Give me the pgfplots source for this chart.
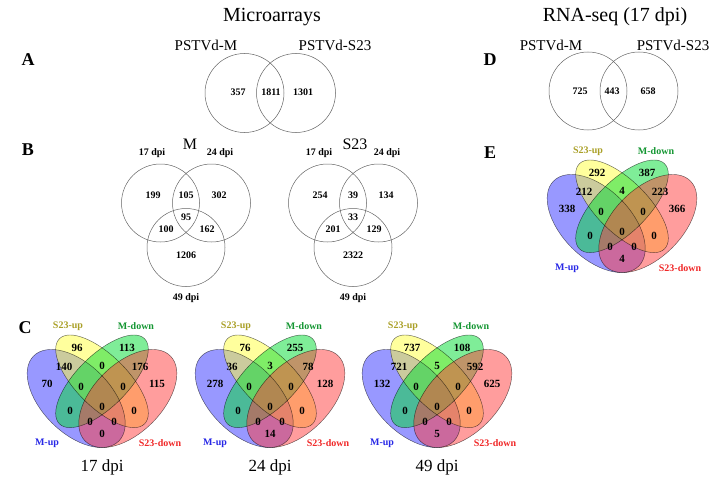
\documentclass[border=0pt]{standalone}
\usepackage{pgfplots}
\pgfplotsset{compat=1.18}
\usepackage{pgfplotstable}
\usepackage{fontspec}
\setmainfont{Liberation Serif}

\definecolor{vblue}{RGB}{50,50,255}
\definecolor{vyellow}{RGB}{255,255,60}
\definecolor{vgreen}{RGB}{0,220,50}
\definecolor{vred}{RGB}{255,60,60}
\definecolor{lblue}{RGB}{40,40,230}
\definecolor{lyellow}{RGB}{170,160,40}
\definecolor{lgreen}{RGB}{20,150,50}
\definecolor{lred}{RGB}{240,40,40}
\definecolor{cline}{RGB}{100,100,100}

\newcommand\fs[1]{\fontsize{#1bp}{#1bp}\selectfont}

\pgfplotstableread{
dx dy c17 c24 c49 rna
-25 -59 96 76 737 292
25 -59 113 255 108 387
-38 -40 140 36 721 212
0 -41 0 3 5 4
38 -40 176 78 592 223
-55 -23 70 278 132 338
55 -23 115 128 625 366
-21 -20 0 0 0 0
21 -20 0 0 0 0
0 0 0 0 0 0
-32 4 0 0 0 0
32 4 0 0 0 0
-12 15 0 0 0 0
12 15 0 0 0 0
0 27 0 14 5 4
}\quadtab

\pgfplotstableread{
dx dy M S
-33 -22 199 254
0 -22 105 39
33 -22 302 134
0 0 95 33
-20 12 100 201
21 12 162 129
0 38 1206 2322
}\tritab

\pgfplotstableread{
x y v
238 92 357
271 92 1811
303 92 1301
}\tabA

\pgfplotstableread{
x y v
580 91 725
612 91 443
648 91 658
}\tabD

\newcommand\quadvenn[2]{%
 \fill[vblue, fill opacity=0.5, rotate around={-45:(axis cs:{#1-25.8},{#2-8.5})}] (axis cs:{#1-25.8},{#2-8.5}) ellipse[x radius=60.2, y radius=34.4];
 \fill[vyellow, fill opacity=0.5, rotate around={-45:(axis cs:{#1},{#2-25.7})}] (axis cs:{#1},{#2-25.7}) ellipse[x radius=60.2, y radius=25.8];
 \fill[vgreen, fill opacity=0.5, rotate around={45:(axis cs:{#1},{#2-25.7})}] (axis cs:{#1},{#2-25.7}) ellipse[x radius=60.2, y radius=25.8];
 \fill[vred, fill opacity=0.5, rotate around={45:(axis cs:{#1+25.8},{#2-8.5})}] (axis cs:{#1+25.8},{#2-8.5}) ellipse[x radius=60.2, y radius=34.4];
 \draw[black, draw opacity=0.6, line width=0.45bp, rotate around={-45:(axis cs:{#1-25.8},{#2-8.5})}] (axis cs:{#1-25.8},{#2-8.5}) ellipse[x radius=60.2, y radius=34.4];
 \draw[black, draw opacity=0.6, line width=0.45bp, rotate around={-45:(axis cs:{#1},{#2-25.7})}] (axis cs:{#1},{#2-25.7}) ellipse[x radius=60.2, y radius=25.8];
 \draw[black, draw opacity=0.6, line width=0.45bp, rotate around={45:(axis cs:{#1},{#2-25.7})}] (axis cs:{#1},{#2-25.7}) ellipse[x radius=60.2, y radius=25.8];
 \draw[black, draw opacity=0.6, line width=0.45bp, rotate around={45:(axis cs:{#1+25.8},{#2-8.5})}] (axis cs:{#1+25.8},{#2-8.5}) ellipse[x radius=60.2, y radius=34.4];
 \node[font=\fs{10}\bfseries, text=lyellow] at (axis cs:{#1-34},{#2-81}) {S23-up};
 \node[font=\fs{10}\bfseries, text=lgreen] at (axis cs:{#1+34},{#2-81}) {M-down};
 \node[font=\fs{10}\bfseries, text=lblue] at (axis cs:{#1-55},{#2+36}) {M-up};
 \node[font=\fs{10}\bfseries, text=lred] at (axis cs:{#1+58},{#2+36}) {S23-down};
}

\newcommand\trivenn[2]{%
 \draw[cline, line width=0.5bp] (axis cs:{#1-25.5},{#2-14}) circle[radius=39];
 \draw[cline, line width=0.5bp] (axis cs:{#1+25.5},{#2-14}) circle[radius=39];
 \draw[cline, line width=0.5bp] (axis cs:{#1},{#2+30.5}) circle[radius=39];
 \node[font=\fs{10}\bfseries] at (axis cs:{#1-34},{#2-64}) {17 dpi};
 \node[font=\fs{10}\bfseries] at (axis cs:{#1+34},{#2-64}) {24 dpi};
 \node[font=\fs{10}\bfseries] at (axis cs:{#1},{#2+81}) {49 dpi};
}

\begin{document}
\begin{tikzpicture}
\begin{axis}[
  scale only axis, width=720bp, height=483bp,
  xmin=0, xmax=720, ymin=0, ymax=483, y dir=reverse,
  hide axis, clip=false,
  nodenum/.style={only marks, mark=none, nodes near coords, point meta=explicit symbolic,
    every node near coord/.append style={anchor=center, font=\fs{#1}\bfseries, text=black, inner sep=0pt}},
]
% titles
\node[font=\fs{20}] at (axis cs:272,17) {Microarrays};
\node[font=\fs{20}] at (axis cs:615,17) {RNA-seq (17 dpi)};
% panel letters
\node[font=\fs{18}\bfseries] at (axis cs:28,60) {A};
\node[font=\fs{18}\bfseries] at (axis cs:28,150) {B};
\node[font=\fs{18}\bfseries] at (axis cs:25,328) {C};
\node[font=\fs{18}\bfseries] at (axis cs:490,60) {D};
\node[font=\fs{18}\bfseries] at (axis cs:490,153) {E};
% A
\node[font=\fs{15}] at (axis cs:206,45) {PSTVd-M};
\node[font=\fs{15}] at (axis cs:335,45) {PSTVd-S23};
\draw[cline, line width=0.5bp] (axis cs:244.5,93) circle[radius=39.5];
\draw[cline, line width=0.5bp] (axis cs:296,93) circle[radius=39.5];
\addplot[nodenum=10] table[x=x, y=y, meta=v] {\tabA};
% D
\node[font=\fs{15}] at (axis cs:551,45) {PSTVd-M};
\node[font=\fs{15}] at (axis cs:673,45) {PSTVd-S23};
\draw[cline, line width=0.5bp] (axis cs:588,91) circle[radius=39];
\draw[cline, line width=0.5bp] (axis cs:639,91) circle[radius=39];
\addplot[nodenum=10] table[x=x, y=y, meta=v] {\tabD};
% B
\node[font=\fs{16}] at (axis cs:190,144) {M};
\node[font=\fs{16}] at (axis cs:355,144) {S23};
\trivenn{186}{217}
\trivenn{353}{217}
\addplot[nodenum=10] table[x expr=\thisrow{dx}+186, y expr=\thisrow{dy}+217, meta=M] {\tritab};
\addplot[nodenum=10] table[x expr=\thisrow{dx}+353, y expr=\thisrow{dy}+217, meta=S] {\tritab};
% C and E
\quadvenn{102}{407}
\quadvenn{270}{407}
\quadvenn{437}{407}
\quadvenn{622}{232}
\addplot[nodenum=11] table[x expr=\thisrow{dx}+102, y expr=\thisrow{dy}+407, meta=c17] {\quadtab};
\addplot[nodenum=11] table[x expr=\thisrow{dx}+270, y expr=\thisrow{dy}+407, meta=c24] {\quadtab};
\addplot[nodenum=11] table[x expr=\thisrow{dx}+437, y expr=\thisrow{dy}+407, meta=c49] {\quadtab};
\addplot[nodenum=11] table[x expr=\thisrow{dx}+622, y expr=\thisrow{dy}+232, meta=rna] {\quadtab};
\node[font=\fs{17}] at (axis cs:102,467) {17 dpi};
\node[font=\fs{17}] at (axis cs:270,467) {24 dpi};
\node[font=\fs{17}] at (axis cs:437,467) {49 dpi};
\coordinate (BL) at (axis cs:0,483);
\coordinate (TR) at (axis cs:720,0);
\end{axis}
\pgfresetboundingbox
\useasboundingbox (BL) rectangle (TR);
\end{tikzpicture}
\end{document}
